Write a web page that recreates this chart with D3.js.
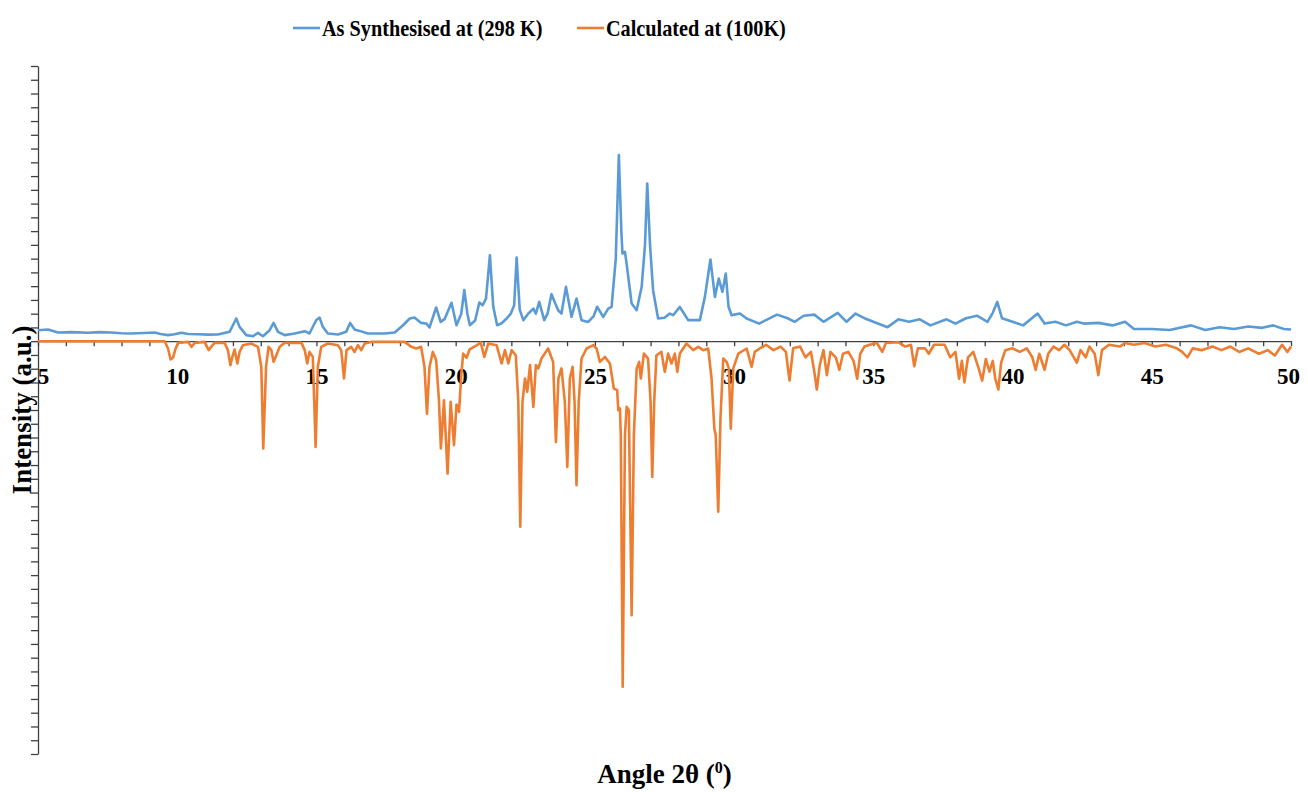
<!DOCTYPE html>
<meta charset="UTF-8">
<style>
body { margin: 0; background: #fff; }
svg { display: block; font-family: "Liberation Serif", "Times New Roman", serif; }
.axis path, .axis line { stroke: #404040; stroke-width: 1.3px; }
.axis text { font-family: "Liberation Serif", "Times New Roman", serif; font-weight: bold; font-size: 23px; fill: #000; }
.series { fill: none; stroke-width: 2.6px; stroke-linejoin: round; }
</style>
<body>
<script src="https://d3js.org/d3.v7.min.js"></script>
<script>

// As synthesised pattern (298 K)
var synthAngle = [5.0,5.36,5.72,6.2,6.8,7.2,7.63,8.0,8.35,8.8,9.19,9.4,9.67,9.9,10.15,10.4,10.75,11.1,11.46,11.88,
  12.0,12.12,12.24,12.48,12.72,12.9,13.08,13.32,13.46,13.62,13.86,14.22,14.58,14.75,14.99,15.11,15.23,15.41,15.77,16.07,
  16.21,16.37,16.55,16.85,17.45,17.81,18.11,18.35,18.52,18.76,18.94,19.06,19.30,19.46,19.6,19.85,20.03,20.2,20.31,20.42,
  20.51,20.7,20.85,20.97,21.09,21.23,21.35,21.49,21.65,21.83,21.98,22.1,22.19,22.3,22.43,22.61,22.79,22.88,23.0,23.18,
  23.3,23.44,23.68,23.8,23.96,24.16,24.34,24.52,24.76,24.95,25.08,25.3,25.48,25.6,25.75,25.86,25.95,25.99,26.08,26.13,
  26.32,26.5,26.68,26.8,26.88,26.98,27.09,27.27,27.5,27.69,27.81,28.05,28.35,28.77,28.95,29.15,29.31,29.45,29.58,29.7,
  29.8,29.91,30.05,30.21,30.45,30.9,31.54,31.92,32.18,32.5,32.88,33.21,33.72,34.04,34.36,34.68,35.0,35.51,35.9,36.28,
  36.67,37.05,37.63,37.95,38.33,38.72,39.1,39.29,39.45,39.62,40.0,40.38,40.9,41.15,41.54,41.92,42.31,42.56,43.08,43.59,
  44.04,44.36,45.0,45.64,46.41,46.92,47.44,47.95,48.46,48.97,49.36,49.74,50.0];
var synthIntensity = [0.80,0.85,0.63,0.66,0.61,0.66,0.63,0.58,0.56,0.6,0.63,0.52,0.44,0.5,0.61,0.52,0.51,0.48,0.49,0.68,
  1.16,1.65,1.04,0.44,0.36,0.61,0.36,0.80,1.33,0.68,0.44,0.56,0.73,0.56,1.52,1.72,1.04,0.56,0.49,0.68,
  1.33,0.85,0.75,0.56,0.56,0.63,1.16,1.65,1.72,1.33,1.29,1.0,2.45,1.40,1.6,2.79,1.16,2.0,3.71,2.0,
  1.16,1.5,2.81,2.62,3.10,6.25,2.50,1.16,1.3,1.65,2.01,2.6,6.08,2.3,1.53,2.01,2.37,2.01,2.86,1.53,
  2.0,3.42,2.25,2.01,3.95,1.77,3.10,1.53,1.40,1.8,2.50,1.77,2.37,2.50,6.0,13.52,8.0,6.37,6.49,5.76,
  2.74,2.25,3.95,7.0,11.46,7.0,3.71,1.65,1.7,2.01,1.89,2.49,1.53,1.53,3.22,5.94,3.22,4.55,3.59,4.92,
  2.5,1.89,1.95,2.01,1.65,1.28,1.93,1.67,1.41,1.85,1.93,1.41,2.06,1.41,2.01,1.67,1.41,1.02,1.59,1.41,
  1.59,1.15,1.59,1.28,1.67,1.85,1.41,2.06,2.85,1.67,1.41,1.15,2.01,1.28,1.41,1.15,1.41,1.28,1.33,1.15,
  1.41,0.89,0.89,0.81,1.15,0.81,1.02,0.89,1.07,0.97,1.15,0.89,0.85];

// Calculated pattern (100 K), plotted downward
var calcAngle = [5.0,9.55,9.67,9.76,9.85,9.93,10.03,10.39,10.51,10.63,10.98,11.13,11.22,11.34,11.7,11.82,11.91,11.98,12.06,12.16,
  12.24,12.36,12.66,12.9,13.02,13.09,13.19,13.28,13.38,13.46,13.56,13.68,13.86,14.46,14.58,14.67,14.75,14.87,14.97,15.05,
  15.17,15.41,15.77,15.89,15.99,16.08,16.25,16.37,16.49,16.61,16.73,16.97,18.17,18.41,18.59,18.76,18.88,18.97,19.06,19.18,
  19.3,19.4,19.47,19.58,19.71,19.82,19.94,20.03,20.12,20.2,20.27,20.39,20.5,20.75,20.9,21.03,21.17,21.47,21.65,21.77,
  21.89,22.01,22.16,22.25,22.32,22.4,22.49,22.57,22.67,22.79,22.88,22.97,23.08,23.32,23.5,23.6,23.69,23.8,23.92,24.01,
  24.1,24.2,24.27,24.34,24.42,24.52,24.7,24.94,25.06,25.18,25.36,25.54,25.68,25.8,25.84,25.9,25.93,26.0,26.08,26.14,
  26.22,26.32,26.4,26.5,26.59,26.65,26.76,26.91,27.0,27.06,27.13,27.21,27.39,27.51,27.63,27.75,27.87,27.96,28.05,28.29,
  28.53,28.71,28.89,29.07,29.19,29.29,29.34,29.43,29.51,29.61,29.73,29.81,29.88,29.97,30.15,30.45,30.63,30.74,30.92,31.15,
  31.41,31.67,31.86,31.99,32.12,32.37,32.56,32.76,32.88,32.97,33.08,33.21,33.33,33.46,33.65,33.78,33.91,34.1,34.29,34.42,
  34.53,34.68,34.87,35.13,35.32,35.45,35.9,36.15,36.35,36.47,36.6,36.86,36.99,37.18,37.56,37.76,37.95,38.08,38.18,38.27,
  38.4,38.59,38.78,38.91,39.04,39.17,39.29,39.38,39.49,39.59,39.74,40.0,40.26,40.51,40.71,40.83,40.96,41.15,41.28,41.47,
  41.67,41.86,42.05,42.31,42.44,42.63,42.76,42.95,43.08,43.21,43.46,43.85,44.04,44.36,44.74,45.13,45.51,45.9,46.09,46.28,
  46.47,46.79,47.18,47.5,47.82,48.14,48.46,48.85,49.17,49.42,49.68,49.87,50.0];
var calcIntensity = [0,0,-0.53,-1.33,-1.19,-0.61,-0.12,-0.05,-0.41,-0.12,-0.05,-0.65,-0.41,-0.12,-0.12,-0.65,-1.74,-1.14,-0.61,-1.62,
  -0.78,-0.29,-0.17,-0.41,-1.87,-7.80,-1.87,-0.41,-0.65,-1.50,-1.02,-0.41,-0.12,-0.12,-0.65,-1.62,-0.78,-1.14,-7.68,-1.87,
  -0.41,-0.17,-0.29,-0.65,-2.71,-0.65,-0.41,-0.78,-0.29,-0.65,-0.17,-0.05,-0.05,-0.41,-0.53,-0.41,-1.87,-5.26,-1.87,-0.78,
  -1.38,-4.3,-7.80,-4.3,-9.62,-4.4,-7.56,-4.6,-5.14,-2.5,-0.90,-1.2,-0.6,-0.3,-0.1,-1.14,-0.17,-0.29,-1.62,-0.65,
  -1.62,-0.65,-1.02,-4.41,-13.49,-4.41,-2.71,-3.68,-1.74,-4.77,-1.74,-1.98,-1.26,-0.53,-1.50,-7.32,-2.71,-1.98,-4.41,-9.13,
  -2.71,-1.86,-4.41,-10.47,-4.41,-1.26,-0.53,-0.29,-0.53,-1.50,-1.14,-1.62,-3.44,-3.56,-5.02,-4.89,-6.83,-25.12,-6.83,-4.77,
  -5.02,-19.91,-6.83,-1.98,-1.50,-2.71,-0.90,-1.26,-4.41,-9.86,-4.41,-1.02,-0.78,-2.23,-0.90,-1.62,-0.90,-2.23,-0.90,-0.17,
  -0.65,-0.41,-0.65,-0.53,-2.71,-6.35,-6.83,-12.40,-5.62,-1.26,-1.50,-1.98,-6.35,-1.98,-0.90,-0.53,-1.86,-0.78,-0.53,-0.26,
  -0.65,-0.39,-0.78,-2.86,-0.52,-0.39,-1.17,-0.78,-2.21,-3.51,-1.69,-0.65,-2.47,-0.78,-1.17,-2.08,-0.91,-0.78,-1.43,-2.73,
  -0.91,-0.39,-0.26,-0.13,-0.78,-0.13,-0.08,-0.39,-0.26,-1.82,-0.52,-0.52,-0.91,-0.26,-0.26,-1.17,-0.78,-2.73,-1.43,-2.99,
  -1.17,-0.78,-1.95,-2.86,-1.30,-2.21,-1.43,-2.73,-3.51,-1.56,-0.65,-0.52,-0.78,-0.52,-1.17,-2.08,-0.91,-2.08,-0.91,-0.39,
  -0.65,-0.26,-0.65,-1.56,-0.65,-1.17,-0.39,-0.91,-2.47,-0.65,-0.26,-0.39,-0.13,-0.26,-0.13,-0.39,-0.26,-0.52,-0.78,-1.17,
  -0.52,-0.65,-0.39,-0.65,-0.39,-0.78,-0.52,-0.91,-0.65,-1.04,-0.26,-0.78,-0.39];

var seriesNames = ["As Synthesised at (298 K)", "Calculated at (100K)"];
var seriesColors = ["#5b9bd5", "#ed7d31"];
var xTickLabels = [5, 10, 15, 20, 25, 30, 35, 40, 45, 50];

var width = 1308, height = 792;
var margin = {top: 66, right: 17, bottom: 38, left: 38};

var svg = d3.select("body").append("svg")
    .attr("width", width)
    .attr("height", height);

svg.append("rect").attr("width", width).attr("height", height).attr("fill", "#fff");

var x = d3.scaleLinear().domain([5, 50]).range([margin.left, width - margin.right]);
var y = d3.scaleLinear().domain([-30, 20]).range([height - margin.bottom, margin.top]);

// y axis: minor ticks only, no labels
svg.append("g")
    .attr("class", "axis")
    .attr("transform", "translate(" + x(5) + ",0)")
    .call(d3.axisLeft(y).tickValues(d3.range(-30, 21)).tickSize(7).tickSizeOuter(0).tickFormat(""));

// x axis along zero
var xAxis = svg.append("g")
    .attr("class", "axis")
    .attr("transform", "translate(0," + y(0) + ")")
    .call(d3.axisBottom(x).tickValues(d3.range(5, 51)).tickSize(5).tickSizeOuter(0).tickPadding(21)
      .tickFormat(function(d) { return xTickLabels.indexOf(d) >= 0 ? d : ""; }));
xAxis.selectAll("text").filter(function(d) { return d === 5; }).attr("dx", 5);
xAxis.selectAll("text").filter(function(d) { return d === 50; }).attr("dx", -3);

var line = d3.line()
    .x(function(d) { return x(d[0]); })
    .y(function(d) { return y(d[1]); });

var synth = d3.zip(synthAngle, synthIntensity);
var calc = d3.zip(calcAngle, calcIntensity);

svg.append("path").datum(calc).attr("class", "series")
    .attr("stroke", seriesColors[1]).attr("d", line);
svg.append("path").datum(synth).attr("class", "series")
    .attr("stroke", seriesColors[0]).attr("d", line);

// axis titles
svg.append("text")
    .attr("x", (x(5) + x(50)) / 2)
    .attr("y", 783)
    .attr("text-anchor", "middle")
    .style("font-weight", "bold").style("font-size", "27px")
    .html("Angle 2θ (<tspan dy='-10' font-size='16px'>0</tspan><tspan dy='10'>)</tspan>");

svg.append("text")
    .attr("transform", "translate(31," + (y(-30) + y(20)) / 2 + ") rotate(-90)")
    .attr("text-anchor", "middle")
    .style("font-weight", "bold").style("font-size", "27px")
    .text("Intensity (a.u.)");

// legend
var legendX = [293, 577];
seriesNames.forEach(function(name, i) {
  var g = svg.append("g").attr("transform", "translate(" + legendX[i] + ",0)");
  g.append("line").attr("x1", 0).attr("x2", 27).attr("y1", 28).attr("y2", 28)
    .attr("stroke", seriesColors[i]).attr("stroke-width", 2.6);
  g.append("text").attr("transform", "translate(29,36) scale(0.9,1)")
    .style("font-weight", "bold").style("font-size", "22.5px")
    .text(name);
});

</script>
</body>
